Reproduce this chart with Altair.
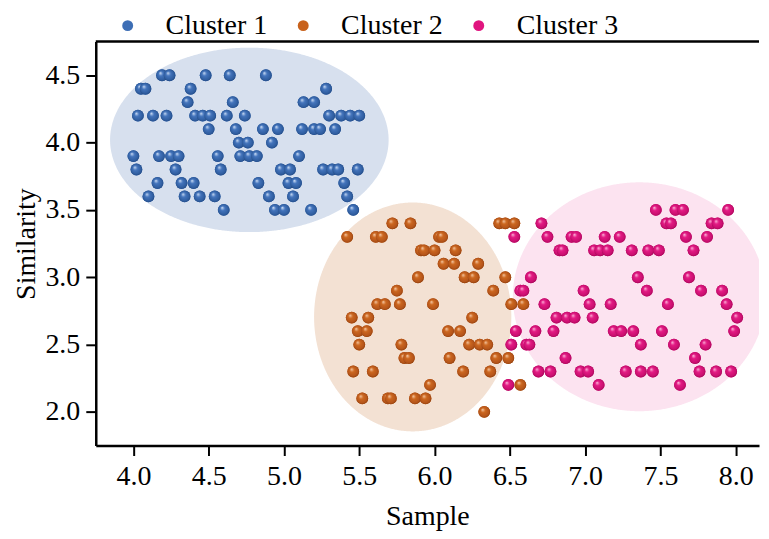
import altair as alt
import pandas as pd

FONT = "Liberation Serif"

clusters = ["Cluster 1", "Cluster 2", "Cluster 3"]
colors = ["#3d6eb5", "#c8621c", "#e0157f"]
ell_fill = ["#d7e0ee", "#f3e1d3", "#fce3f0"]
grad_stops = [
    ["#d4e3f8", "#4374bc", "#2f5d9f", "#1e4278"],
    ["#f7cfae", "#cc671f", "#b4541a", "#7d3608"],
    ["#fcc0de", "#e31a84", "#c90f6f", "#8e054c"],
]

# ellipse centre / radii (data units)
ell_cx = [4.77, 5.855, 7.36]
ell_cy = [4.02, 2.705, 2.855]
ell_rx = [0.925, 0.655, 0.84]
ell_ry = [0.685, 0.85, 0.85]

# Cluster 1 (rows of equal similarity)
c1_rows_y = [4.5, 4.4, 4.3, 4.2, 4.1, 4.0, 3.9, 3.8, 3.7, 3.6, 3.5]
c1_rows_x = [
    [4.19, 4.24, 4.48, 4.64, 4.88],
    [4.05, 4.08, 4.38, 5.28],
    [4.36, 4.66, 5.13, 5.20],
    [4.03, 4.13, 4.22, 4.41, 4.46, 4.51, 4.62, 4.74, 5.30, 5.38, 5.44, 5.50],
    [4.50, 4.68, 4.86, 4.96, 5.12, 5.20, 5.24, 5.34],
    [4.70, 4.76, 4.92],
    [4.00, 4.17, 4.25, 4.30, 4.56, 4.71, 4.77, 4.82, 5.10],
    [4.02, 4.28, 4.58, 4.98, 5.04, 5.26, 5.32, 5.36, 5.49],
    [4.16, 4.32, 4.40, 4.83, 5.03, 5.08, 5.40],
    [4.10, 4.34, 4.44, 4.54, 4.90, 5.06, 5.42],
    [4.60, 4.94, 5.00, 5.18, 5.46],
]

# Cluster 2
c2_rows_y = [3.4, 3.3, 3.2, 3.1, 3.0, 2.9, 2.8, 2.7, 2.6, 2.5, 2.4, 2.3, 2.2, 2.1, 2.0]
c2_rows_x = [
    [5.72, 5.84, 6.43, 6.47, 6.53],
    [5.42, 5.61, 5.65, 6.03, 6.05],
    [5.91, 5.93, 6.00, 6.14],
    [6.06, 6.13, 6.29],
    [5.89, 6.20, 6.26, 6.47],
    [5.75, 6.39],
    [5.62, 5.67, 5.77, 5.99, 6.51, 6.59],
    [5.45, 5.56, 6.25],
    [5.49, 5.55, 6.09, 6.17],
    [5.50, 5.78, 6.23, 6.30, 6.35],
    [5.80, 5.83, 6.10, 6.41, 6.49],
    [5.46, 5.59, 6.19, 6.37],
    [5.97, 6.57],
    [5.52, 5.69, 5.71, 5.87, 5.94],
    [6.33],
]

# Cluster 3
c3_rows_y = [3.5, 3.4, 3.3, 3.2, 3.0, 2.9, 2.8, 2.7, 2.6, 2.5, 2.4, 2.3, 2.2]
c3_rows_x = [
    [7.47, 7.60, 7.65, 7.95],
    [6.71, 7.54, 7.57, 7.84, 7.88],
    [6.53, 6.75, 6.91, 6.94, 7.13, 7.23, 7.67, 7.81],
    [6.83, 6.85, 7.06, 7.10, 7.15, 7.31, 7.42, 7.49, 7.72],
    [6.64, 7.35, 7.69],
    [6.57, 6.59, 6.99, 7.41, 7.77, 7.91],
    [6.73, 7.03, 7.17, 7.55, 7.94],
    [6.81, 6.88, 6.93, 7.05, 8.01],
    [6.54, 6.67, 6.79, 7.19, 7.24, 7.32, 7.51, 7.99],
    [6.51, 6.61, 6.63, 7.37, 7.59, 7.80],
    [6.87, 7.73],
    [6.69, 6.77, 6.97, 7.02, 7.27, 7.37, 7.45, 7.76, 7.87, 7.97],
    [6.49, 7.09, 7.63],
]

x_ticks = [4.0, 4.5, 5.0, 5.5, 6.0, 6.5, 7.0, 7.5, 8.0]
y_ticks = [2.0, 2.5, 3.0, 3.5, 4.0, 4.5]

rows = []
for name, ry, rx in [(clusters[0], c1_rows_y, c1_rows_x),
                     (clusters[1], c2_rows_y, c2_rows_x),
                     (clusters[2], c3_rows_y, c3_rows_x)]:
    for yv, xl in zip(ry, rx):
        for xv in xl:
            rows.append({"x": xv, "y": yv, "cluster": name})
pts = pd.DataFrame(rows)

W, H = 665, 405
xscale = alt.Scale(domain=[3.75, 8.155], nice=False, zero=False)
yscale = alt.Scale(domain=[1.75, 4.75], nice=False, zero=False)

common_axis = dict(
    labelFont=FONT, labelFontSize=28, labelColor="black",
    titleFont=FONT, titleFontSize=28, titleFontWeight="normal", titleColor="black",
    tickSize=10, tickWidth=2, tickColor="black",
    domainColor="black", domainWidth=2.5, grid=False, labelFlush=False,
    format=".1f",
)
X = alt.X("x:Q", scale=xscale, axis=alt.Axis(values=x_ticks, title="Sample",
                                             labelPadding=7, titlePadding=12, **common_axis))
Y = alt.Y("y:Q", scale=yscale, axis=alt.Axis(values=y_ticks, title="Similarity",
                                             labelPadding=6, titlePadding=4, **common_axis))

layers = []
seq = alt.sequence(0, 361, as_="i")
for k in range(3):
    e = (
        alt.Chart(seq)
        .transform_calculate(t="datum.i * PI / 360")
        .transform_calculate(
            x=f"{ell_cx[k]} + {ell_rx[k]} * cos(datum.t)",
            y=f"{ell_cy[k]} + {ell_ry[k]} * sin(datum.t)",
            ylo=f"{ell_cy[k]} - {ell_ry[k]} * sin(datum.t)",
        )
        .mark_area(color=ell_fill[k], opacity=1, clip=True)
        .encode(x=X, y=Y, y2="ylo:Q")
    )
    layers.append(e)

base = (
    alt.Chart(pts)
    .mark_circle(size=140, opacity=1, clip=True)
    .encode(
        x=X, y=Y,
        color=alt.Color(
            "cluster:N",
            scale=alt.Scale(domain=clusters, range=colors),
            legend=alt.Legend(
                title=None, orient="none", legendX=18, legendY=-30,
                direction="horizontal", columns=3,
                labelFont=FONT, labelFontSize=28, labelColor="black",
                symbolType="circle", symbolSize=120, symbolStrokeWidth=0,
                symbolOpacity=1, labelOffset=24, columnPadding=22, padding=0,
            ),
        ),
    )
)
layers.append(base)

for k in range(3):
    s = grad_stops[k]
    g = (
        alt.Chart(pts)
        .transform_filter(alt.datum.cluster == clusters[k])
        .mark_circle(
            size=140, opacity=1, clip=True,
            color=alt.Gradient(
                gradient="radial",
                stops=[
                    alt.GradientStop(color=s[0], offset=0),
                    alt.GradientStop(color=s[1], offset=0.35),
                    alt.GradientStop(color=s[2], offset=0.8),
                    alt.GradientStop(color=s[3], offset=1),
                ],
                x1=0.35, y1=0.3, r1=0.0, x2=0.5, y2=0.5, r2=0.55,
            ),
        )
        .encode(x=X, y=Y)
    )
    layers.append(g)

top_border = (
    alt.Chart(pd.DataFrame({"v": [0]}))
    .mark_rule(color="black", strokeWidth=2.5)
    .encode(x=alt.value(0), x2=alt.value(W), y=alt.value(0))
)
layers.append(top_border)

chart = (
    alt.layer(*layers)
    .properties(width=W, height=H, padding={"left": 5, "top": 3, "right": 0, "bottom": 0})
    .configure_view(stroke=None)
)

chart.save("out.html", embed_options={"renderer": "svg", "actions": False})
